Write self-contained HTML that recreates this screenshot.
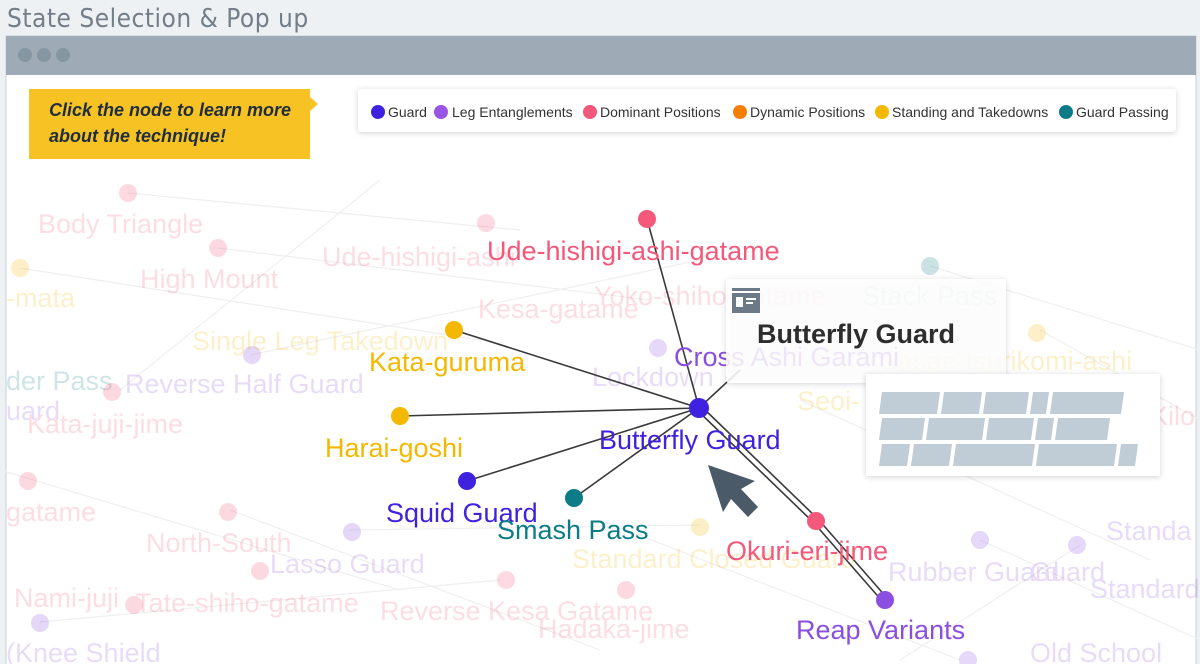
<!DOCTYPE html>
<html><head><meta charset="utf-8"><style>
html,body{margin:0;padding:0;width:1200px;height:664px;overflow:hidden;background:#eef1f4;font-family:"Liberation Sans",sans-serif}
</style></head><body>
<svg width="1200" height="664" xmlns="http://www.w3.org/2000/svg" style="position:absolute;left:0;top:0">
<defs><filter id="sh" x="-10%" y="-20%" width="120%" height="140%"><feDropShadow dx="0" dy="1" stdDeviation="3" flood-opacity="0.18"/></filter></defs>
<rect width="1200" height="664" fill="#eef1f4"/>
<text x="7" y="27" font-size="26" fill="#747e88" font-family="DejaVu Sans Condensed, Liberation Sans, sans-serif" letter-spacing="0.5">State Selection &amp; Pop up</text>
<rect x="6" y="36" width="1190" height="640" fill="#fff" stroke="#c9d1d8"/>
<rect x="6" y="36" width="1190" height="39" fill="#9eabb7"/>
<circle cx="25" cy="55" r="7" fill="#8796a3"/><circle cx="44" cy="55" r="7" fill="#8796a3"/><circle cx="63" cy="55" r="7" fill="#8796a3"/>
<g stroke="#efefef" stroke-width="1.2">
<line x1="128" y1="193" x2="520" y2="230"/><line x1="20" y1="268" x2="480" y2="340"/><line x1="218" y1="248" x2="650" y2="300"/>
<line x1="250" y1="355" x2="700" y2="260"/><line x1="0" y1="470" x2="400" y2="590"/><line x1="230" y1="510" x2="600" y2="650"/>
<line x1="930" y1="266" x2="1200" y2="350"/><line x1="1040" y1="330" x2="1200" y2="420"/><line x1="980" y1="540" x2="1200" y2="640"/>
<line x1="350" y1="530" x2="700" y2="525"/><line x1="40" y1="622" x2="500" y2="580"/><line x1="800" y1="400" x2="1150" y2="560"/>
<line x1="120" y1="390" x2="380" y2="180"/><line x1="600" y1="520" x2="960" y2="660"/><line x1="1080" y1="545" x2="900" y2="660"/>
</g>
<g font-size="27" opacity="0.2">
<text x="38" y="233" fill="#f4587a">Body Triangle</text>
<text x="140" y="288" fill="#f4587a">High Mount</text>
<text x="322" y="266" fill="#f4587a">Ude-hishigi-ashi</text>
<text x="6" y="307" fill="#f5b800">-mata</text>
<text x="478" y="318" fill="#f4587a">Kesa-gatame</text>
<text x="594" y="305" fill="#f4587a">Yoko-shiho-gatame</text>
<text x="862" y="305" fill="#0e7c86">Stack Pass</text>
<text x="192" y="350" fill="#f5b800">Single Leg Takedown</text>
<text x="6" y="390" fill="#0e7c86">der Pass</text>
<text x="125" y="393" fill="#8b4fe0">Reverse Half Guard</text>
<text x="592" y="386" fill="#8b4fe0">Lockdown</text>
<text x="880" y="370" fill="#f5b800">Sasae-tsurikomi-ashi</text>
<text x="797" y="410" fill="#f5b800">Seoi-</text>
<text x="1150" y="425" fill="#f4587a">Kilo</text>
<text x="6" y="420" fill="#8b4fe0">uard</text>
<text x="27" y="433" fill="#f4587a">Kata-juji-jime</text>
<text x="6" y="521" fill="#f4587a">gatame</text>
<text x="146" y="552" fill="#f4587a">North-South</text>
<text x="270" y="573" fill="#8b4fe0">Lasso Guard</text>
<text x="572" y="568" fill="#f5b800">Standard Closed Guard</text>
<text x="1106" y="540" fill="#8b4fe0">Standa</text>
<text x="888" y="581" fill="#8b4fe0">Rubber Guard</text>
<text x="1030" y="581" fill="#8b4fe0">Guard</text>
<text x="1090" y="598" fill="#8b4fe0">Standard</text>
<text x="14" y="607" fill="#f4587a">Nami-juji</text>
<text x="135" y="612" fill="#f4587a">Tate-shiho-gatame</text>
<text x="380" y="620" fill="#f4587a">Reverse Kesa Gatame</text>
<text x="538" y="638" fill="#f4587a">Hadaka-jime</text>
<text x="6" y="662" fill="#8b4fe0">(Knee Shield</text>
<text x="1030" y="662" fill="#8b4fe0">Old School</text>
</g>
<g opacity="0.22">
<circle cx="128" cy="193" r="9" fill="#f4587a"/><circle cx="218" cy="248" r="9" fill="#f4587a"/><circle cx="20" cy="268" r="9" fill="#f5b800"/>
<circle cx="486" cy="223" r="9" fill="#f4587a"/><circle cx="930" cy="266" r="9" fill="#0e7c86"/><circle cx="1037" cy="333" r="9" fill="#f5b800"/>
<circle cx="252" cy="355" r="9" fill="#8b4fe0"/><circle cx="112" cy="392" r="9" fill="#f4587a"/><circle cx="658" cy="348" r="9" fill="#8b4fe0"/>
<circle cx="28" cy="481" r="9" fill="#f4587a"/><circle cx="228" cy="512" r="9" fill="#f4587a"/><circle cx="352" cy="532" r="9" fill="#8b4fe0"/>
<circle cx="700" cy="527" r="9" fill="#f5b800"/><circle cx="980" cy="540" r="9" fill="#8b4fe0"/><circle cx="1077" cy="545" r="9" fill="#8b4fe0"/>
<circle cx="260" cy="571" r="9" fill="#f4587a"/><circle cx="506" cy="580" r="9" fill="#f4587a"/><circle cx="626" cy="590" r="9" fill="#f4587a"/>
<circle cx="40" cy="623" r="9" fill="#8b4fe0"/><circle cx="134" cy="605" r="9" fill="#f4587a"/><circle cx="968" cy="660" r="9" fill="#8b4fe0"/>
</g>
<rect x="358" y="89" width="818" height="43" rx="3" fill="#fff" filter="url(#sh)"/>
<g font-size="14" fill="#333" font-family="Liberation Sans Narrow, Liberation Sans, sans-serif">
<circle cx="378" cy="112" r="7" fill="#3f22e0"/><text x="388" y="117">Guard</text>
<circle cx="441" cy="112" r="7" fill="#9a55e6"/><text x="452" y="117">Leg Entanglements</text>
<circle cx="590" cy="112" r="7" fill="#f4587a"/><text x="600" y="117">Dominant Positions</text>
<circle cx="740" cy="112" r="7" fill="#f57e00"/><text x="750" y="117">Dynamic Positions</text>
<circle cx="882" cy="112" r="7" fill="#f5b800"/><text x="892" y="117">Standing and Takedowns</text>
<circle cx="1066" cy="112" r="7" fill="#0e7c86"/><text x="1076" y="117">Guard Passing</text>
</g>
<path d="M29 89 H310 V97 L318 104 L310 111 V159 H29 Z" fill="#f7c224"/>
<g font-size="18" font-weight="bold" font-style="italic" fill="#1f2d3d" font-family="Liberation Sans Narrow, Liberation Sans, sans-serif"><text x="49" y="116">Click  the node to learn more</text><text x="49" y="142">about the technique!</text></g>
<g stroke="#3a3a3a" stroke-width="1.6">
<line x1="699" y1="408" x2="647" y2="219"/><line x1="699" y1="408" x2="454" y2="330"/>
<line x1="699" y1="408" x2="400" y2="416"/><line x1="699" y1="408" x2="467" y2="481"/>
<line x1="699" y1="408" x2="574" y2="498"/><line x1="699" y1="408" x2="740" y2="370"/>
<line x1="697" y1="410" x2="814" y2="523"/><line x1="701" y1="406" x2="818" y2="519"/>
<line x1="814" y1="523" x2="883" y2="602"/><line x1="818" y1="519" x2="887" y2="598"/>
</g>
<g font-size="27">
<text x="487" y="260" fill="#f4587a">Ude-hishigi-ashi-gatame</text>
<text x="369" y="371" fill="#f5b800">Kata-guruma</text>
<text x="674" y="366" fill="#8b4fe0">Cross Ashi Garami</text>
<text x="325" y="457" fill="#f5b800">Harai-goshi</text>
<text x="599" y="449" fill="#3f22e0">Butterfly Guard</text>
<text x="386" y="522" fill="#3f22e0">Squid Guard</text>
<text x="497" y="539" fill="#0e7c86">Smash Pass</text>
<text x="726" y="560" fill="#f4587a">Okuri-eri-jime</text>
<text x="796" y="639" fill="#8b4fe0">Reap Variants</text>
</g>
<circle cx="647" cy="219" r="9" fill="#f4587a"/><circle cx="454" cy="330" r="9" fill="#f5b800"/>
<circle cx="400" cy="416" r="9" fill="#f5b800"/><circle cx="467" cy="481" r="9" fill="#3f22e0"/>
<circle cx="574" cy="498" r="9" fill="#0e7c86"/><circle cx="699" cy="408" r="10" fill="#3f22e0"/>
<circle cx="816" cy="521" r="9" fill="#f4587a"/><circle cx="885" cy="600" r="9" fill="#8b4fe0"/>
<rect x="726" y="279" width="280" height="104" rx="3" fill="#fff" fill-opacity="0.85" filter="url(#sh)"/>
<rect x="732" y="288" width="28" height="25" fill="#6c7986"/>
<rect x="732" y="291" width="28" height="2" fill="#fff"/>
<rect x="736" y="297" width="7" height="10" fill="#fff"/><rect x="746" y="298" width="10" height="2" fill="#fff"/><rect x="746" y="302" width="7" height="2" fill="#fff"/>
<text x="757" y="343" font-size="27" font-weight="bold" fill="#2d2d2d">Butterfly Guard</text>
<rect x="866" y="374" width="294" height="102" fill="#fff" filter="url(#sh)"/>
<g fill="#c0ccd6">
<polygon points="882,392 940,392 937,414 879,414"/><polygon points="944,392 982,392 979,414 941,414"/><polygon points="986,392 1029,392 1026,414 983,414"/><polygon points="1033,392 1049,392 1046,414 1030,414"/><polygon points="1053,392 1124,392 1121,414 1050,414"/>
<polygon points="882,418 925,418 922,440 879,440"/><polygon points="929,418 985,418 982,440 926,440"/><polygon points="989,418 1034,418 1031,440 986,440"/><polygon points="1038,418 1054,418 1051,440 1035,440"/><polygon points="1058,418 1110,418 1107,440 1055,440"/>
<polygon points="882,444 910,444 907,466 879,466"/><polygon points="914,444 952,444 949,466 911,466"/><polygon points="956,444 1035,444 1032,466 953,466"/><polygon points="1039,444 1117,444 1114,466 1036,466"/><polygon points="1121,444 1138,444 1135,466 1118,466"/>
</g>
<polygon points="708,465 755,481 741,489 758,507 748,517 731,499 723,512" fill="#4a5a68"/>
</svg>
</body></html>
